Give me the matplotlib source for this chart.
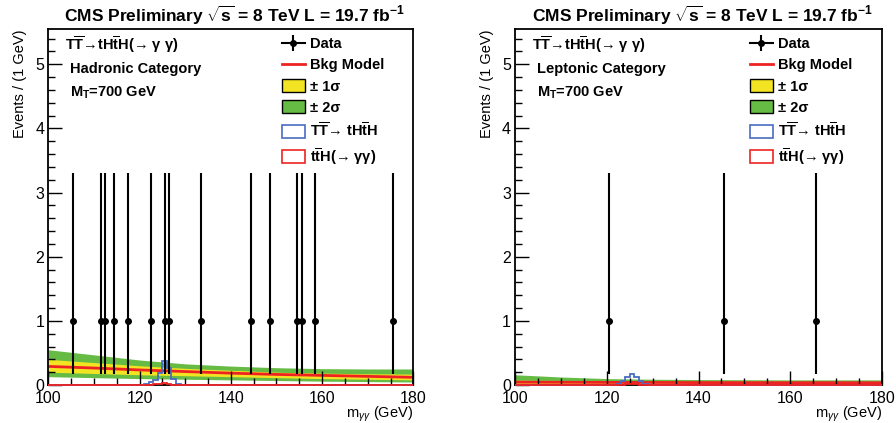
import numpy as np
import matplotlib
matplotlib.use('Agg')
import matplotlib.pyplot as plt
from matplotlib.lines import Line2D
from matplotlib.patches import Patch
from matplotlib.ticker import MultipleLocator

plt.rcParams['font.family'] = ['Liberation Sans', 'DejaVu Sans']
plt.rcParams['mathtext.fontset'] = 'custom'
plt.rcParams['mathtext.rm'] = 'Liberation Sans'
plt.rcParams['mathtext.it'] = 'Liberation Sans:italic'
plt.rcParams['mathtext.bf'] = 'Liberation Sans:bold'

# background model band, sampled every 10 GeV
band_x = [100, 110, 120, 130, 140, 150, 160, 170, 180]

had_bkg = [0.29, 0.265, 0.235, 0.21, 0.185, 0.165, 0.15, 0.135, 0.12]
had_1s_hi = [0.40, 0.35, 0.30, 0.26, 0.23, 0.20, 0.185, 0.175, 0.17]
had_1s_lo = [0.20, 0.18, 0.16, 0.145, 0.13, 0.115, 0.10, 0.09, 0.08]
had_2s_hi = [0.55, 0.47, 0.39, 0.33, 0.295, 0.27, 0.255, 0.25, 0.25]
had_2s_lo = [0.13, 0.115, 0.10, 0.09, 0.08, 0.07, 0.06, 0.053, 0.047]

lep_bkg = [0.045, 0.043, 0.041, 0.040, 0.038, 0.037, 0.036, 0.036, 0.035]
lep_1s_hi = [0.075, 0.070, 0.066, 0.063, 0.060, 0.058, 0.057, 0.056, 0.056]
lep_1s_lo = [0.025, 0.024, 0.023, 0.022, 0.021, 0.021, 0.020, 0.020, 0.020]
lep_2s_hi = [0.16, 0.125, 0.10, 0.09, 0.085, 0.082, 0.08, 0.08, 0.08]
lep_2s_lo = [0.015, 0.013, 0.011, 0.010, 0.009, 0.008, 0.007, 0.006, 0.005]

# data (1 GeV bins, one event each)
had_mass = [105.5, 111.5, 112.5, 114.5, 117.5, 122.5, 125.5, 126.5,
            133.5, 144.5, 148.5, 154.5, 155.5, 158.5, 175.5]
lep_mass = [120.5, 145.5, 165.5]
err_lo = 0.827
err_hi = 2.3

# signal histograms
sig_edges = [100, 119, 120, 121, 122, 123, 124, 125, 126, 127, 128, 129, 130, 180]
had_tth_sig = [0, 0.0, 0.005, 0.015, 0.05, 0.08, 0.18, 0.38, 0.26, 0.09, 0.015, 0.005, 0]
had_tth_smh = [0, 0, 0, 0, 0.003, 0.01, 0.02, 0.025, 0.015, 0.005, 0, 0, 0]
lep_tth_sig = [0, 0, 0, 0.005, 0.02, 0.06, 0.12, 0.17, 0.12, 0.06, 0.015, 0.003, 0]
lep_tth_smh = [0, 0, 0, 0, 0.002, 0.008, 0.015, 0.02, 0.012, 0.004, 0, 0, 0]

c_yel = '#f2e422'
c_grn = '#66bb44'
c_red = '#ee2222'
c_blu = '#4a6cc0'

fig = plt.figure(figsize=(8.96, 4.23), dpi=100)
ax1 = fig.add_axes([0.0539, 0.0898, 0.4074, 0.8416])
ax2 = fig.add_axes([0.5748, 0.0898, 0.4096, 0.8416])

panels = [
    (ax1, 'Hadronic Category', had_mass, had_bkg, had_1s_hi, had_1s_lo,
     had_2s_hi, had_2s_lo, had_tth_sig, had_tth_smh),
    (ax2, 'Leptonic Category', lep_mass, lep_bkg, lep_1s_hi, lep_1s_lo,
     lep_2s_hi, lep_2s_lo, lep_tth_sig, lep_tth_smh),
]

bold = dict(fontweight='bold', fontsize=10.5)
TTbar = r'T$\mathbf{\overline{T}}$'
tHtH = r'tH$\mathbf{\overline{t}}$H'

for ax, cat, mass, bkg, s1hi, s1lo, s2hi, s2lo, sig, smh in panels:
    ax.fill_between(band_x, s2lo, s2hi, color=c_grn, lw=0, zorder=1)
    ax.fill_between(band_x, s1lo, s1hi, color=c_yel, lw=0, zorder=1.1)
    ax.plot(band_x, bkg, color=c_red, lw=2, zorder=1.2)

    ax.stairs(sig, sig_edges, color=c_blu, lw=1.3, zorder=3, clip_on=False)
    ax.stairs(smh, sig_edges, color=c_red, lw=1.3, zorder=3.1, clip_on=False)

    n = len(mass)
    ax.errorbar(mass, [1] * n, yerr=[[err_lo] * n, [err_hi] * n],
                fmt='o', color='black', ms=4, elinewidth=1.5, capsize=0, zorder=4)

    ax.set_xlim(100, 180)
    ax.set_ylim(0, 5.55)
    ax.xaxis.set_major_locator(MultipleLocator(20))
    ax.xaxis.set_minor_locator(MultipleLocator(5))
    ax.yaxis.set_major_locator(MultipleLocator(1))
    ax.yaxis.set_minor_locator(MultipleLocator(0.2))
    ax.tick_params(which='both', direction='in', labelsize=11.5, width=1)
    ax.tick_params(which='major', length=10)
    ax.tick_params(which='minor', length=5)
    ax.tick_params(axis='x', pad=4)
    ax.tick_params(axis='y', pad=3)
    for sp in ax.spines.values():
        sp.set_linewidth(1.3)

    ax.set_ylabel('Events / (1 GeV)', loc='top', fontsize=10.5, labelpad=6)
    ax.set_xlabel(r'm$_{\gamma\gamma}$ (GeV)', loc='right', fontsize=10.5, labelpad=-0.5)
    ax.set_title(r'CMS Preliminary $\mathbf{\sqrt{s}}$ = 8 TeV L = 19.7 fb$^{\mathbf{-1}}$',
                 fontsize=12.5, fontweight='bold', x=0.51, pad=5)

    ax.text(0.047, 0.955, TTbar + '→' + tHtH + '(→ γ γ)',
            transform=ax.transAxes, va='center', ha='left', **bold)
    ax.text(0.06, 0.887, cat, transform=ax.transAxes, va='center', ha='left', **bold)
    ax.text(0.06, 0.822, r'M$_{\mathbf{T}}$=700 GeV', transform=ax.transAxes,
            va='center', ha='left', **bold)

    handles = [
        (Line2D([], [], color='black', lw=1.5),
         Line2D([], [], color='black', marker='|', ms=12, mew=1.5, ls='none'),
         Line2D([], [], color='black', marker='o', ms=4, ls='none')),
        Line2D([], [], color=c_red, lw=2),
        Patch(facecolor=c_yel, edgecolor='black', lw=1),
        Patch(facecolor=c_grn, edgecolor='black', lw=1),
        Patch(facecolor='white', edgecolor=c_blu, lw=1.2),
        Patch(facecolor='white', edgecolor=c_red, lw=1.2),
    ]
    labels = ['Data', 'Bkg Model', '± 1σ', '± 2σ',
              TTbar + '→ ' + tHtH,
              r't$\mathbf{\overline{t}}$H(→ γγ)']
    ax.legend(handles, labels, loc='upper left', bbox_to_anchor=(0.64, 0.978),
              frameon=False, prop=dict(weight='bold', size=10.5),
              handlelength=1.55, handleheight=1.0, handletextpad=0.35,
              labelspacing=0.45, borderpad=0, borderaxespad=0)

fig.savefig('out.png', dpi=100)
